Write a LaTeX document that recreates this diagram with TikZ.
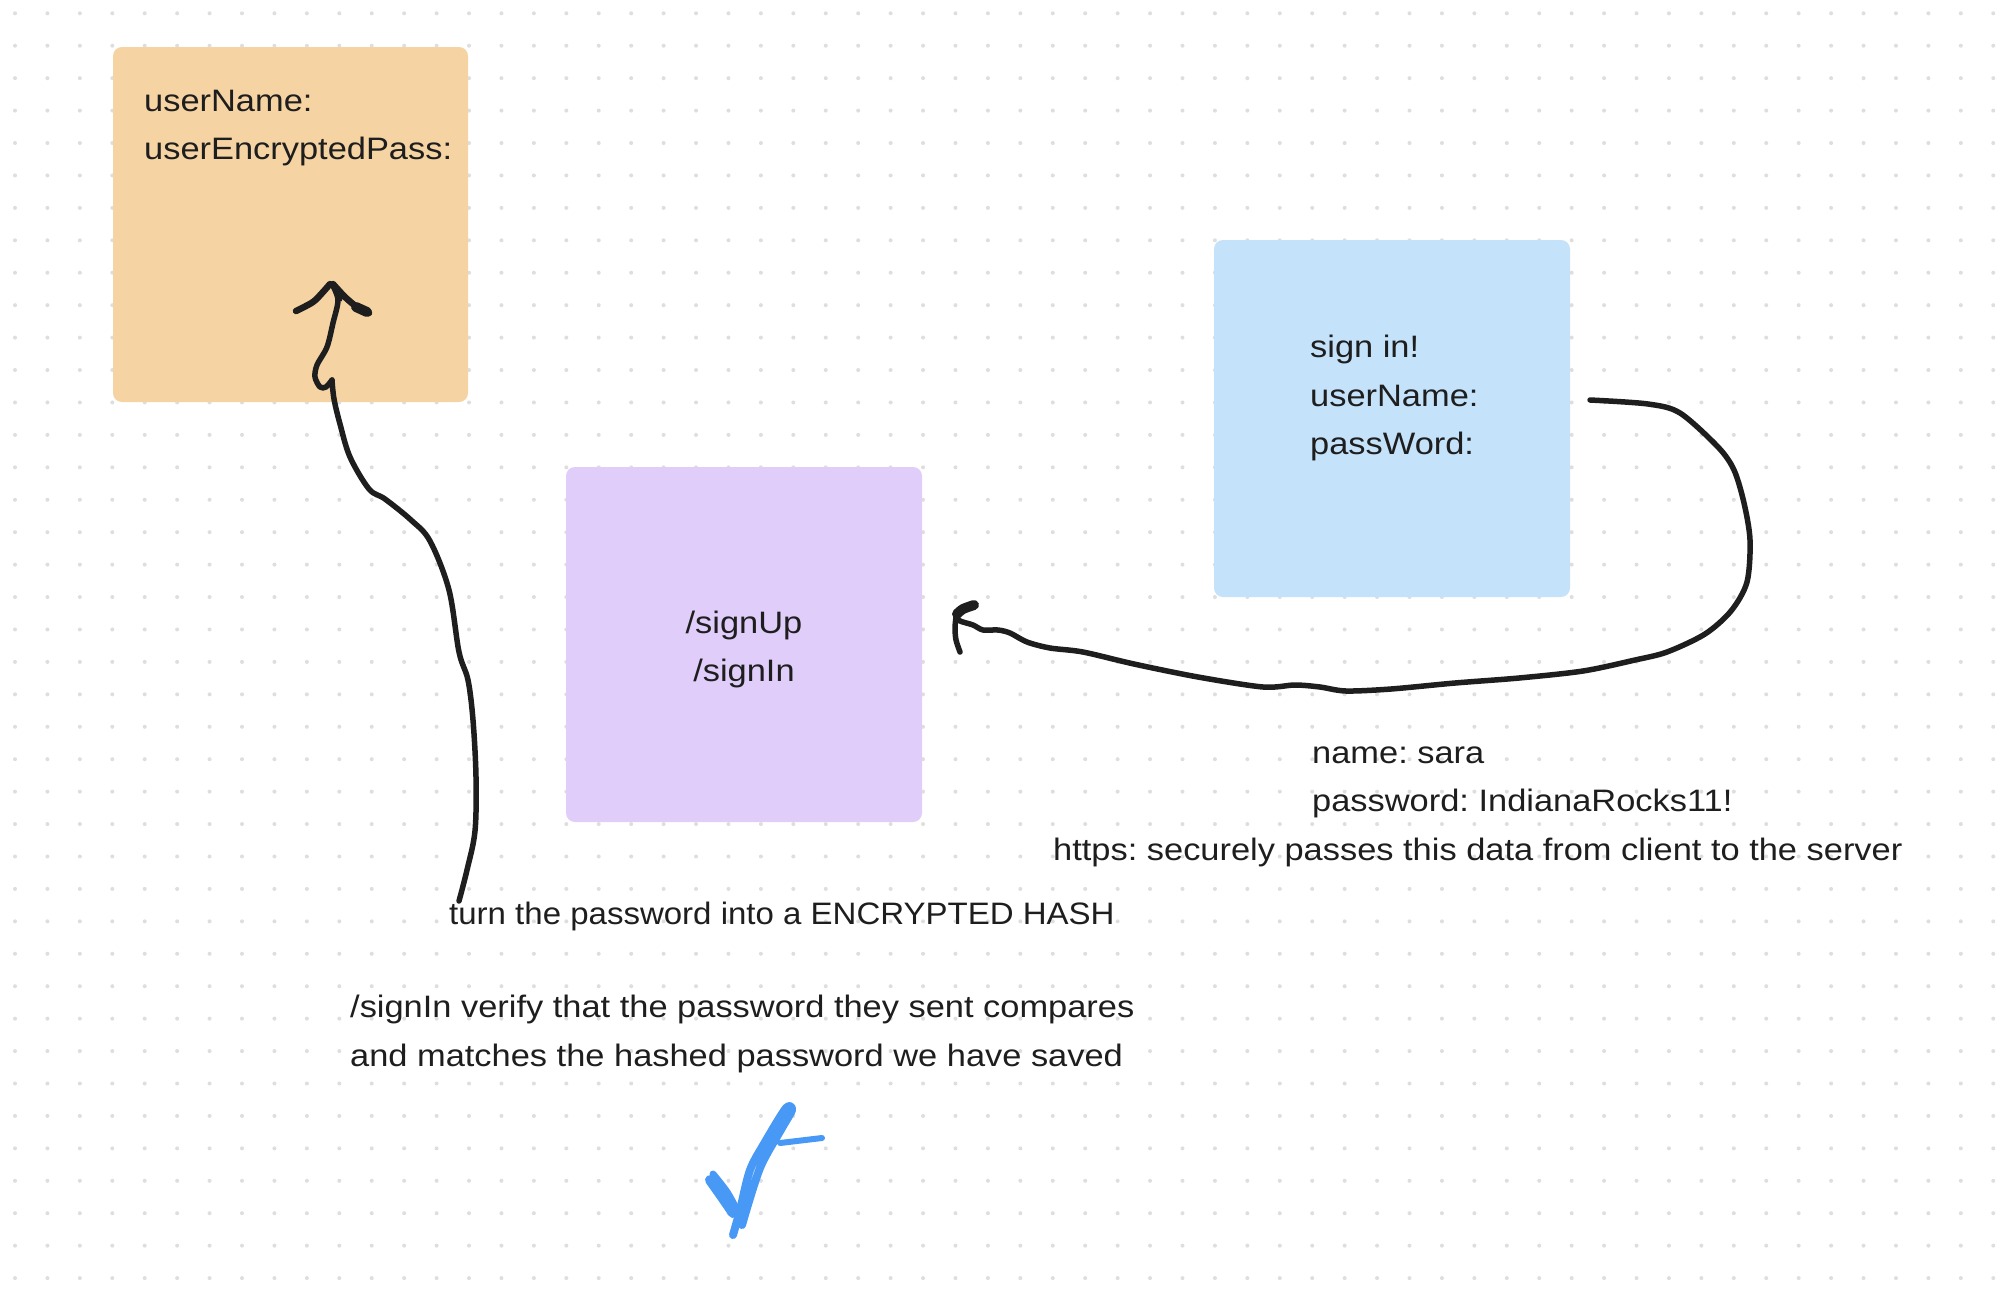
\documentclass[tikz,border=0pt]{standalone}
\usepackage{fontspec}
\setmainfont[FakeStretch=1.11]{Liberation Sans}
\newfontfamily\narrowsans[FakeStretch=1.065]{Liberation Sans}
\frenchspacing
\begin{document}
\begin{tikzpicture}[x=1pt,y=-1pt,
  txt/.style={inner sep=0pt,anchor=base west,text=ink,font=\fontsize{31}{37}\selectfont},
  ctxt/.style={inner sep=0pt,anchor=base,text=ink,font=\fontsize{31}{37}\selectfont},
  card/.style={rounded corners=9pt,draw=none},
  pen/.style={draw=ink,line width=5.5pt,line cap=round,line join=round},
  bluepen/.style={draw=checkblue,line width=8pt,line cap=round,line join=round}]
\definecolor{ink}{RGB}{30,30,30}
\definecolor{dotgray}{RGB}{222,222,222}
\definecolor{orangefill}{RGB}{245,211,163}
\definecolor{purplefill}{RGB}{224,205,250}
\definecolor{bluefill}{RGB}{196,226,250}
\definecolor{checkblue}{RGB}{72,153,245}
\useasboundingbox (0,0) rectangle (2012,1304);
\fill[white] (0,0) rectangle (2012,1304);
% dot grid
\foreach \i in {0,...,61}{
  \foreach \j in {0,...,39}{
    \fill[dotgray] ({15+32.43*\i},{13.3+32.43*\j}) circle (2pt);
  }
}
% cards
\path[card,fill=orangefill] (113,47) rectangle (468,402);
\path[card,fill=purplefill] (566,467) rectangle (922,822);
\path[card,fill=bluefill] (1214,240) rectangle (1570,597);
% texts
\node[txt] (u1) at (144,111) {userName:};
\node[txt] (u2) at (144,159.5) {userEncryptedPass:};
\node[ctxt] (r1) at (744,633) {/signUp};
\node[ctxt] (r2) at (744,681) {/signIn};
\node[txt] (s1) at (1310,357.5) {sign in!};
\node[txt] (s2) at (1310,406) {userName:};
\node[txt] (s3) at (1310,454.5) {passWord:};
\node[txt] (n1) at (1312,763.5) {name: sara};
\node[txt] (n2) at (1312,811.5) {password: IndianaRocks11!};
\node[txt] (n3) at (1053,860) {https: securely passes this data from client to the server};
\node[txt,font=\narrowsans\fontsize{31}{37}\selectfont] (t1) at (449,924.5) {turn the password into a ENCRYPTED HASH};
\node[txt] (v1) at (350,1017.5) {/signIn verify that the password they sent compares};
\node[txt] (v2) at (350,1066.5) {and matches the hashed password we have saved};
% arrow 1 (up to the orange card)
\coordinate (a1start) at (459,901);
\coordinate (a1tip) at (332,284);
\draw[pen] plot[smooth,tension=0.55] coordinates {(a1start) (467,870) (475,831) (476,777) (473,720) (468,680) (459,652) (449,590) (430,541) (411,520) (385,499) (369,489) (350,457) (340,424) (334,399) (332,380)};
\draw[pen] plot[smooth,tension=0.5] coordinates {(332,380) (326,387) (320,387) (315,377) (317,365) (327,347) (333,323) (338,300) (a1tip)};
\draw[pen,line width=6.5pt] plot[smooth,tension=0.5] coordinates {(296,311) (313,302) (323,292) (330,284)};
\draw[pen,line width=6.5pt] plot[smooth,tension=0.5] coordinates {(333,284) (345,297) (357,307) (369,313)};
\draw[pen,line width=10pt] (356,307) -- (367,312);
\draw[pen,line width=3pt] (335,287) -- (341,300);
% arrow 2 (from the blue card to the purple card)
\coordinate (a2start) at (1590,400);
\coordinate (a2tip) at (956,617);
\draw[pen] plot[smooth,tension=0.5] coordinates {(a2start) (1648,404) (1680,413) (1718,447) (1734,470) (1744,503) (1750,540) (1747,582) (1731,611) (1705,634) (1667,652) (1635,660) (1583,671) (1519,678) (1455,683) (1391,689) (1346,691) (1320,687) (1295,685) (1263,687) (1198,677) (1134,664) (1083,652) (1050,648) (1027,642) (1010,633) (998,630) (983,630) (973,625) (960,621) (a2tip)};
\draw[pen,line width=10pt] plot[smooth,tension=0.5] coordinates {(957,614) (963,609) (974,605)};
\draw[pen] plot[smooth,tension=0.5] coordinates {(a2tip) (955,628) (956,640) (960,652)};
% check mark
\draw[bluepen] plot[smooth,tension=0.5] coordinates {(733,1235) (740,1210) (750,1170) (765,1142) (786,1108) (792,1110) (782,1128) (760,1168) (742,1225)};
\draw[bluepen,line width=10pt] plot[smooth,tension=0.5] coordinates {(710,1180) (722,1197) (733,1213)};
\draw[bluepen,line width=7pt] plot[smooth,tension=0.5] coordinates {(713,1174) (727,1192) (737,1210)};
\draw[bluepen,line width=6pt] (780,1143) -- (822,1138);
\end{tikzpicture}
\end{document}
